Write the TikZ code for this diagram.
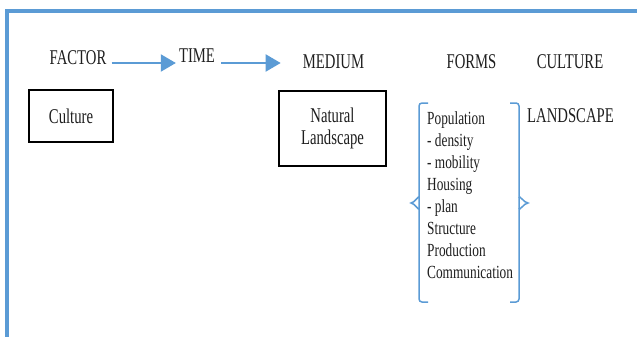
\documentclass[tikz,border=0pt]{standalone}
\usepackage{fontspec}
\newfontfamily\libserif{Liberation Serif}
\usetikzlibrary{arrows.meta}
\definecolor{frameblue}{RGB}{91,155,213}
\definecolor{ink}{RGB}{30,30,30}
\newcommand\narrow[1]{\scalebox{0.7}[1]{#1}}
\newcommand\narrowl[1]{\scalebox{0.72}[1]{#1}}
\begin{document}
\begin{tikzpicture}[x=1pt,y=-1pt,
  head/.style={inner sep=0pt, anchor=base, font=\libserif\fontsize{21}{22}\selectfont, text=ink},
  headw/.style={head, anchor=base west},
  boxnode/.style={draw=black, line width=2pt, inner sep=0pt, align=center,
    font=\libserif\fontsize{21}{22}\selectfont, text=ink},
  listitem/.style={inner sep=0pt, anchor=base west, font=\libserif\fontsize{18.5}{22}\selectfont, text=ink},
  arr/.style={draw=frameblue, line width=2pt, -{Triangle[length=15pt,width=17pt,fill=frameblue]}},
  frameline/.style={draw=frameblue, line width=3.5pt},
  bracestyle/.style={draw=frameblue, line width=1.5pt, rounded corners=3pt}]
\useasboundingbox (0,0) rectangle (637,337);
% frame
\draw[frameline] (7,340) -- (7,11) -- (640,11);
% headings
\node[head] (factor) at (78,64) {\narrow{FACTOR}};
\node[head] (time) at (197,63) {\narrow{TIME}};
\node[head] (medium) at (333.5,69) {\narrow{MEDIUM}};
\node[head] (forms) at (471.5,68) {\narrow{FORMS}};
\node[head] (culture) at (570,68) {\narrow{CULTURE}};
\node[headw] (landscape) at (527,122) {\narrow{LANDSCAPE}};
% boxes
\node[boxnode, minimum width=84pt, minimum height=52pt] (cbox) at (71,116) {\narrow{Culture}};
\node[boxnode, minimum width=107pt, minimum height=75pt] (nbox) at (332.5,128.5) {\narrow{Natural}\\\narrow{Landscape}};
% arrows
\draw[arr] ([xshift=5pt,yshift=1pt]factor.base east) -- ([xshift=-3pt,yshift=0pt]time.base west);
\draw[arr] ([xshift=6pt,yshift=0pt]time.base east) -- ([xshift=-22pt,yshift=6pt]medium.base west);
% list
\foreach \t [count=\i] in {Population,- density,- mobility,Housing,- plan,Structure,Production,Communication}
  \node[listitem] (l\i) at (427,{124+22*(\i-1)}) {\narrowl{\t}};
% braces
\draw[bracestyle] (428,103) -- (419,103) -- (419,302) -- (428,302);
\draw[draw=frameblue, line width=1.5pt] (419,198) to[out=90,in=0] (411,203) to[out=0,in=-90] (419,208);
\draw[bracestyle] (510,103) -- (519,103) -- (519,302) -- (510,302);
\draw[draw=frameblue, line width=1.5pt] (519,198) to[out=90,in=180] (528,203) to[out=180,in=-90] (519,208);
\end{tikzpicture}
\end{document}
